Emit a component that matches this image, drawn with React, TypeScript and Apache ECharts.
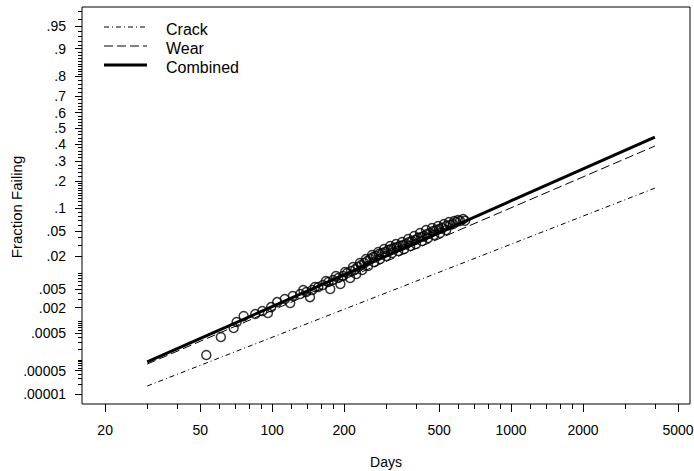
import React, { useEffect, useRef } from "react";
import * as echarts from "echarts";

// ---- data ----
const lineDays = [30, 4000];
const crackFraction = [1.76e-5, 0.169];
const wearFraction = [7.7e-5, 0.389];
const combinedFraction = [8.8e-5, 0.445];

const failureDays = [
  53, 61, 69, 71, 76, 96, 99, 105, 113, 122,
  131, 139, 147, 156, 163, 172, 180, 189, 198, 206,
  214, 223, 229, 236, 243, 250, 257, 265, 272, 280,
  289, 297, 306, 315, 324, 333, 343, 353, 364, 374,
  385, 397, 408, 420, 433, 445, 458, 472, 486, 500,
  514, 535, 556, 572, 589, 612, 642,
  135, 151, 168, 185, 202, 218, 233, 247, 262, 278,
  294, 312, 330, 350, 371, 393, 416, 441, 467, 495,
  524, 550, 578, 600, 630,
  85, 91, 119, 144, 175, 193, 212, 225, 238, 252,
  267, 283, 300, 318, 337, 357, 378, 400, 424, 449,
  476, 505, 535,
];
const failureFraction = [
  1.37e-4, 4.04e-4, 6.75e-4, 9.4e-4, 1.29e-3, 1.52e-3, 2.05e-3, 2.64e-3, 3.07e-3, 3.55e-3,
  3.91e-3, 4.31e-3, 4.73e-3, 5.43e-3, 5.95e-3, 6.81e-3, 7.45e-3, 8.15e-3, 8.89e-3, 0.0101,
  0.011, 0.012, 0.013, 0.0141, 0.0153, 0.0166, 0.018, 0.0195, 0.0202, 0.0218,
  0.0227, 0.0236, 0.0254, 0.0264, 0.0274, 0.0285, 0.0295, 0.0306, 0.0317, 0.0341,
  0.0353, 0.0366, 0.0392, 0.0406, 0.042, 0.045, 0.0465, 0.0497, 0.0513, 0.0531,
  0.0548, 0.0585, 0.0604, 0.0624, 0.0664, 0.0685, 0.069,
  4.73e-3, 5.43e-3, 7.13e-3, 8.89e-3, 0.0106, 0.013, 0.0153, 0.018, 0.021, 0.0236,
  0.0264, 0.0295, 0.0317, 0.0341, 0.0379, 0.042, 0.0465, 0.0513, 0.0548, 0.0585,
  0.0624, 0.0664, 0.0685, 0.0707, 0.0729,
  1.44e-3, 1.68e-3, 2.52e-3, 3.38e-3, 4.95e-3, 6.23e-3, 8.15e-3, 9.7e-3, 0.0115, 0.0136,
  0.0159, 0.018, 0.0202, 0.0227, 0.0245, 0.0264, 0.0295, 0.0317, 0.0353, 0.0392,
  0.0434, 0.0465, 0.0513,
];

const xMajorTicks = [20, 50, 100, 200, 500, 1000, 2000, 5000];
const xMinorTicks = [30, 40, 60, 70, 80, 90, 120, 140, 160, 180, 300, 400, 600, 700, 800, 900, 1200, 1400, 1600, 1800, 3000, 4000];
const yMajorTicks = [0.95, 0.9, 0.8, 0.7, 0.6, 0.5, 0.4, 0.3, 0.2, 0.1, 0.05, 0.02, 0.005, 0.002, 0.0005, 0.00005, 0.00001];
const yMinorTicks = [
  0.97, 0.96, 0.94, 0.93, 0.92, 0.91,
  0.89, 0.88, 0.87, 0.86, 0.85, 0.84, 0.83, 0.82, 0.81,
  0.78, 0.76, 0.74, 0.72, 0.68, 0.66, 0.64, 0.62,
  0.58, 0.56, 0.54, 0.52, 0.48, 0.46, 0.44, 0.42,
  0.38, 0.36, 0.34, 0.32, 0.28, 0.26, 0.24, 0.22,
  0.19, 0.18, 0.17, 0.16, 0.15, 0.14, 0.13, 0.12, 0.11,
  0.09, 0.08, 0.07, 0.06, 0.04, 0.03, 0.01,
  0.009, 0.008, 0.007, 0.006, 0.004, 0.003, 0.001,
  0.0009, 0.0008, 0.0007, 0.0006, 0.0004, 0.0003, 0.0002, 0.0001,
  0.00009, 0.00008, 0.00007, 0.00006, 0.00004, 0.00003, 0.00002,
];
const xRange = [16, 5610];
const yRange = [4.8e-6, 0.9745];

// ---- scale transforms (log days, normal-probability fraction) ----
function probit(p: number): number {
  const a = [-3.969683028665376e1, 2.209460984245205e2, -2.759285104469687e2, 1.38357751867269e2, -3.066479806614716e1, 2.506628277459239];
  const b = [-5.447609879822406e1, 1.615858368580409e2, -1.556989798598866e2, 6.680131188771972e1, -1.328068155288572e1];
  const c = [-7.784894002430293e-3, -3.223964580411365e-1, -2.400758277161838, -2.549732539343734, 4.374664141464968, 2.938163982698783];
  const d = [7.784695709041462e-3, 3.224671290700398e-1, 2.445134137142996, 3.754408661907416];
  const plow = 0.02425;
  if (p < plow) {
    const q = Math.sqrt(-2 * Math.log(p));
    return (((((c[0] * q + c[1]) * q + c[2]) * q + c[3]) * q + c[4]) * q + c[5]) / ((((d[0] * q + d[1]) * q + d[2]) * q + d[3]) * q + 1);
  }
  if (p <= 1 - plow) {
    const q = p - 0.5;
    const r = q * q;
    return ((((((a[0] * r + a[1]) * r + a[2]) * r + a[3]) * r + a[4]) * r + a[5]) * q) / (((((b[0] * r + b[1]) * r + b[2]) * r + b[3]) * r + b[4]) * r + 1);
  }
  const q = Math.sqrt(-2 * Math.log(1 - p));
  return -(((((c[0] * q + c[1]) * q + c[2]) * q + c[3]) * q + c[4]) * q + c[5]) / ((((d[0] * q + d[1]) * q + d[2]) * q + d[3]) * q + 1);
}
const X = (days: number) => Math.log10(days);
const Y = (f: number) => probit(f);

const FONT = "'Liberation Sans', Arial, Helvetica, sans-serif";

function yLabel(v: number): string {
  let best = yMajorTicks[0];
  let bd = Infinity;
  for (const p of yMajorTicks) {
    const dd = Math.abs(Y(p) - v);
    if (dd < bd) { bd = dd; best = p; }
  }
  return String(best).replace(/^0/, "");
}

// layout (pixels): plot frame and the room kept inside the grid for outward ticks
const FRAME = { left: 82, top: 7, right: 690, bottom: 404 };
const TICK_ROOM = { left: 8, bottom: 9 };
const W = 694;
const H = 471;

export default function App() {
  const ref = useRef<HTMLDivElement>(null);
  useEffect(() => {
    if (!ref.current) return;
    const chart = echarts.init(ref.current, undefined, { renderer: "svg" });
    const xMin = X(xRange[0]);
    const xMax = X(xRange[1]);
    const yMin = Y(yRange[0]);
    const yMax = Y(yRange[1]);
    const pxPerX = (FRAME.right - FRAME.left) / (xMax - xMin);
    const pxPerY = (FRAME.bottom - FRAME.top) / (yMax - yMin);
    // axes extended so the tick band lies inside the grid
    const xLo = xMin - TICK_ROOM.left / pxPerX;
    const yLo = yMin - TICK_ROOM.bottom / pxPerY;
    const lineData = (fr: number[]) => lineDays.map((d, i) => [X(d), Y(fr[i])]);
    const black = "#000";
    const axisLine = { show: false, onZero: false };

    const xTicks = (vals: number[], len: number) => ({
      type: "lines", coordinateSystem: "cartesian2d", silent: true, z: 6,
      lineStyle: { color: black, width: 1, opacity: 1 },
      data: vals.map((t) => ({ coords: [[X(t), yMin], [X(t), yMin - len / pxPerY]] })),
    });
    const yTicks = (vals: number[], len: number) => ({
      type: "lines", coordinateSystem: "cartesian2d", silent: true, z: 6,
      lineStyle: { color: black, width: 1, opacity: 1 },
      data: vals.map((f) => ({ coords: [[xMin, Y(f)], [xMin - len / pxPerX, Y(f)]] })),
    });

    const option: any = {
      animation: false,
      grid: {
        left: FRAME.left - TICK_ROOM.left, top: FRAME.top, right: W - FRAME.right,
        bottom: H - FRAME.bottom - TICK_ROOM.bottom,
        containLabel: false, outerBoundsMode: "none", show: false,
      },
      xAxis: {
        type: "value", position: "bottom", min: xLo, max: xMax,
        axisLine, splitLine: { show: false }, axisTick: { show: false },
        axisLabel: { show: true, customValues: xMajorTicks.map(X), formatter: (v: number) => String(Math.round(Math.pow(10, v))), margin: 10, color: black, fontSize: 14, fontFamily: FONT },
      },
      yAxis: {
        type: "value", position: "left", min: yLo, max: yMax,
        axisLine, splitLine: { show: false }, axisTick: { show: false },
        axisLabel: { show: true, customValues: yMajorTicks.map(Y), formatter: (v: number) => yLabel(v), margin: 8, color: black, fontSize: 14, fontFamily: FONT },
      },
      series: [
        {
          name: "Frame", type: "line", silent: true, clip: false, symbol: "none", z: 5,
          lineStyle: { color: black, width: 1 },
          data: [[xMin, yMin], [xMax, yMin], [xMax, yMax], [xMin, yMax], [xMin, yMin]],
        },
        xTicks(xMajorTicks, 8),
        xTicks(xMinorTicks, 5),
        yTicks(yMajorTicks, 7),
        yTicks(yMinorTicks, 4),
        { name: "Crack", type: "line", data: lineData(crackFraction), symbol: "none", lineStyle: { color: black, width: 1, type: [5, 3, 1, 3] } },
        { name: "Wear", type: "line", data: lineData(wearFraction), symbol: "none", lineStyle: { color: black, width: 1, type: [9, 4] } },
        { name: "Combined", type: "line", data: lineData(combinedFraction), symbol: "none", lineStyle: { color: black, width: 3 } },
        {
          name: "Failures", type: "scatter",
          data: failureDays.map((d, i) => [X(d), Y(failureFraction[i])]),
          symbol: "circle", symbolSize: 9,
          itemStyle: { color: "rgba(0,0,0,0)", borderColor: black, borderWidth: 1.5 },
        },
      ],
      graphic: [
        { type: "line", shape: { x1: 104, y1: 27, x2: 147, y2: 27 }, style: { stroke: black, lineWidth: 1, lineDash: [5, 3, 1, 3] } },
        { type: "line", shape: { x1: 104, y1: 46, x2: 147, y2: 46 }, style: { stroke: black, lineWidth: 1, lineDash: [9, 4] } },
        { type: "line", shape: { x1: 104, y1: 65, x2: 147, y2: 65 }, style: { stroke: black, lineWidth: 3 } },
        { type: "text", x: 166, y: 29, style: { text: "Crack", fontSize: 16, fontFamily: FONT, fill: black, verticalAlign: "middle" } },
        { type: "text", x: 166, y: 48, style: { text: "Wear", fontSize: 16, fontFamily: FONT, fill: black, verticalAlign: "middle" } },
        { type: "text", x: 166, y: 67, style: { text: "Combined", fontSize: 16, fontFamily: FONT, fill: black, verticalAlign: "middle" } },
        { type: "text", x: 386, y: 462, style: { text: "Days", fontSize: 14, fontFamily: FONT, fill: black, align: "center", verticalAlign: "middle" } },
        { type: "text", x: 16, y: 207, rotation: Math.PI / 2, style: { text: "Fraction Failing", fontSize: 15, fontFamily: FONT, fill: black, align: "center", verticalAlign: "middle" } },
      ],
    };
    chart.setOption(option);
    return () => chart.dispose();
  }, []);
  return <div ref={ref} style={{ position: "fixed", left: 0, top: 0, width: W, height: H, background: "#fff" }} />;
}
